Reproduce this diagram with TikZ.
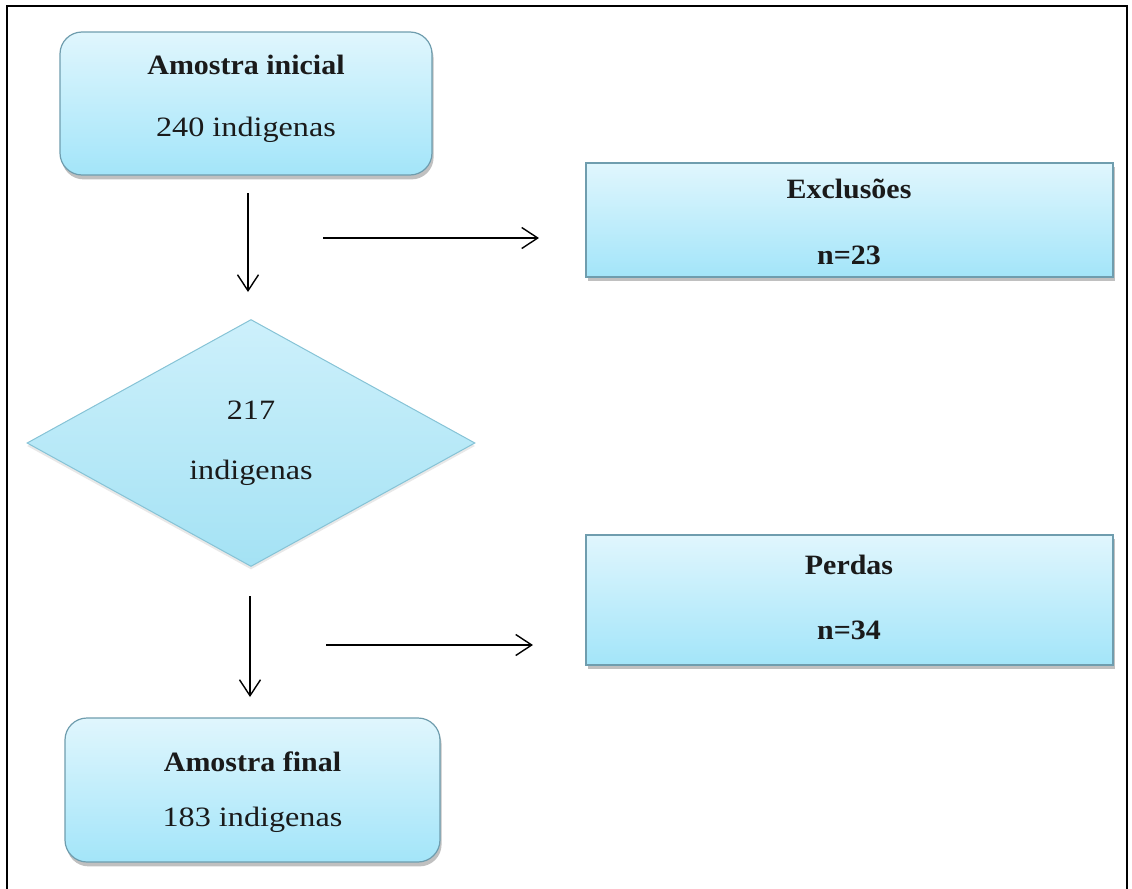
\documentclass[tikz,border=0pt]{standalone}
\usepackage{fontspec}
\setmainfont{Liberation Serif}[FakeStretch=1.15, BoldFeatures={FakeStretch=1.07}]
\usetikzlibrary{arrows.meta,shapes.geometric,shadows}
\definecolor{boxtop}{HTML}{E0F6FD}
\definecolor{boxbot}{HTML}{A3E5F9}
\definecolor{boxline}{HTML}{6F9DAE}
\definecolor{diatop}{HTML}{CDF0FB}
\definecolor{diabot}{HTML}{A4E2F4}
\definecolor{dialine}{HTML}{86C3D6}
\definecolor{txt}{HTML}{1A1A1A}
\tikzset{
  boxshadow/.style={drop shadow={shadow xshift=0.8pt, shadow yshift=-2.2pt, opacity=0.35, fill=black!70}},
  flowbox/.style={draw=boxline, line width=0.6pt, top color=boxtop, bottom color=boxbot, inner sep=0pt, boxshadow},
  roundbox/.style={flowbox, rounded corners=11pt},
  sqbox/.style={flowbox},
  diabox/.style={diamond, draw=dialine, line width=0.5pt, top color=diatop, bottom color=diabot, inner sep=0pt, aspect=1.81,
     drop shadow={shadow xshift=0pt, shadow yshift=-1.5pt, opacity=0.18, fill=black!50}},
  lbl/.style={inner sep=0pt, text=txt, font=\fontsize{14}{17}\selectfont},
  blbl/.style={lbl, font=\fontsize{14}{17}\selectfont\bfseries},
  flowarrow/.style={line width=0.7pt, -{Straight Barb[length=8pt,width=10.5pt,line width=0.7pt]}}
}
\begin{document}
\begin{tikzpicture}[x=0.5pt,y=-0.5pt]
\useasboundingbox[fill=white] (0,0) rectangle (1132,889);
% frame
\draw[line width=1.1pt] (7,889) -- (7,6) -- (1127,6) -- (1127,889);

% boxes
\node[roundbox, minimum width=186pt, minimum height=71.5pt] (ini) at (246,103.5) {};
\node[blbl] (iniA) at (246,65) {Amostra inicial};
\node[lbl] (iniB) at (246,130) {240 indigenas};

\node[sqbox, minimum width=263.5pt, minimum height=57pt] (exc) at (849.5,220) {};
\node[blbl] (excA) at (849,189) {Exclusões};
\node[blbl] (excB) at (849,255) {n=23};

\node[diabox, minimum width=224pt, minimum height=123.5pt] (dia) at (251,443) {};
\node[lbl] (diaA) at (251,410) {217};
\node[lbl] (diaB) at (251,473) {indigenas};

\node[sqbox, minimum width=263.5pt, minimum height=65pt] (per) at (849.5,600) {};
\node[blbl] (perA) at (849,565) {Perdas};
\node[blbl] (perB) at (849,630) {n=34};

\node[roundbox, minimum width=187.5pt, minimum height=72pt] (fin) at (252.5,790) {};
\node[blbl] (finA) at (252.5,762) {Amostra final};
\node[lbl] (finB) at (252.5,820) {183 indigenas};

% arrows
\coordinate (a1s) at (248,193);
\coordinate (a1e) at (248,292);
\coordinate (h1s) at (323,238);
\coordinate (h1e) at (539,238);
\coordinate (a2s) at (250,596);
\coordinate (a2e) at (250,697);
\coordinate (h2s) at (326,645);
\coordinate (h2e) at (533,645);
\draw[flowarrow] (a1s) -- (a1e);
\draw[flowarrow] (h1s) -- (h1e);
\draw[flowarrow] (a2s) -- (a2e);
\draw[flowarrow] (h2s) -- (h2e);
\end{tikzpicture}
\end{document}
